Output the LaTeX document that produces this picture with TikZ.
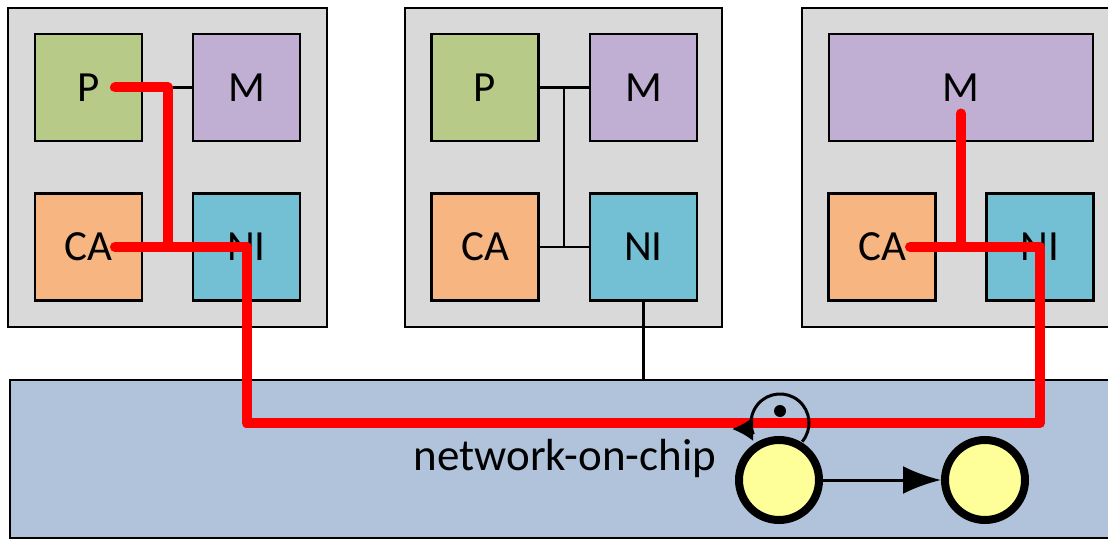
\documentclass[tikz,border=0pt]{standalone}
\usepackage{fontspec}
\setmainfont{Carlito}
\usetikzlibrary{arrows.meta}

\definecolor{tilegray}{HTML}{D9D9D9}
\definecolor{procgreen}{HTML}{B7CA88}
\definecolor{mempurple}{HTML}{C0AFD2}
\definecolor{cacheorange}{HTML}{F7B581}
\definecolor{niblue}{HTML}{73C0D4}
\definecolor{nocblue}{HTML}{B0C3DB}
\definecolor{stateyellow}{HTML}{FFFF99}

\begin{document}
\begin{tikzpicture}[x=1pt,y=-1pt,
    tile/.style={draw, line width=2pt, fill=tilegray, minimum width=319pt, minimum height=319pt},
    unit/.style={draw, line width=2.4pt, minimum width=107pt, minimum height=107pt, inner sep=0pt,
                 font=\fontsize{43}{50}\selectfont},
    bus/.style={line width=2.4pt},
    link/.style={line width=3pt},
    route/.style={red, line width=10pt, line cap=round, line join=round},
    state/.style={circle, draw, line width=8pt, fill=stateyellow, minimum size=80pt, inner sep=0pt},
    token/.style={circle, fill=black, minimum size=12pt, inner sep=0pt}]

    \useasboundingbox (0,0) rectangle (1108,540);
    \clip (0,0) rectangle (1108,540);

    % --- Network-on-chip (bottom) ---
    \node[draw, line width=2pt, fill=nocblue, minimum width=1110pt, minimum height=158pt,
          font=\fontsize{45}{52}\selectfont] (noc) at (565,459) {network-on-chip};

    % --- Tile 1 ---
    \node[tile] (t1) at (167.5,167.5) {};
    \node[unit, fill=procgreen] (p1) at (88.5,87.5) {P};
    \node[unit, fill=mempurple] (m1) at (246.5,87.5) {M};
    \node[unit, fill=cacheorange] (ca1) at (88.5,247) {CA};
    \node[unit, fill=niblue] (ni1) at (246.5,247) {NI};
    \coordinate (b1) at (167.5,87.5);
    \draw[bus] (p1.east) -- (m1.west);
    \draw[bus] (ca1.east) -- (ni1.west);
    \draw[bus] (b1) -- (b1 |- ca1.east);

    % --- Tile 2 ---
    \node[tile, minimum width=317pt] (t2) at (563.5,167.5) {};
    \node[unit, fill=procgreen] (p2) at (485,87.5) {P};
    \node[unit, fill=mempurple] (m2) at (643.5,87.5) {M};
    \node[unit, fill=cacheorange] (ca2) at (485,247) {CA};
    \node[unit, fill=niblue] (ni2) at (643.5,247) {NI};
    \coordinate (b2) at (564,87.5);
    \draw[bus] (p2.east) -- (m2.west);
    \draw[bus] (ca2.east) -- (ni2.west);
    \draw[bus] (b2) -- (b2 |- ca2.east);
    \draw[bus] (ni2.south) -- (ni2.south |- noc.north);

    % --- Tile 3 (cut at the right edge) ---
    \node[tile, minimum width=318pt] (t3) at (961,167.5) {};
    \node[unit, fill=mempurple, minimum width=264pt] (m3) at (961,87.5) {M};
    \node[unit, fill=cacheorange] (ca3) at (882,247) {CA};
    \node[unit, fill=niblue] (ni3) at (1040,247) {NI};
    \draw[bus] (ca3.east) -- (ni3.west);

    % --- Red route ---
    \coordinate (lane) at (565,423);
    \draw[route] ([xshift=26.5pt]p1.center) -| (b1 |- ca1.center);
    \draw[route] ([xshift=26.5pt]ca1.center) -- (ni1.center) -- (ni1 |- lane)
                 -- (ni3 |- lane) -- (ni3.center) -- ([xshift=28pt]ca3.center);
    \draw[route] ([yshift=-26pt]m3.center) -- (m3 |- ca3.center);

    % --- States ---
    \node[state] (s1) at (779,480) {};
    \node[state] (s2) at (985,480) {};
    \draw[link, -{Latex[length=38pt,width=28pt]}] (s1) -- (s2);
    % self loop on s1
    \coordinate (loopstart) at (802.2,441.6);
    \coordinate (loopend) at (753,429);
    \draw[link] (loopstart) arc[start angle=40, end angle=-203, radius=29];
    \draw[link, -{Latex[length=21pt,width=24pt]}] (loopend) -- ++(-21,0);
    \node[token] (tok) at (780,411) {};

\end{tikzpicture}
\end{document}
